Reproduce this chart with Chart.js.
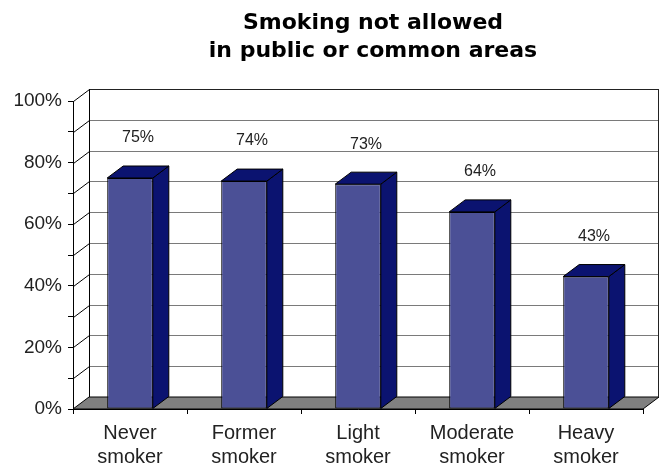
<!DOCTYPE html>
<html>
<head>
<meta charset="utf-8">
<script src="https://cdn.jsdelivr.net/npm/chart.js@4.4.1/dist/chart.umd.min.js"></script>
<style>
  html, body { margin: 0; padding: 0; background: #ffffff; }
  #wrap { width: 662px; height: 471px; }
</style>
</head>
<body>
<div id="wrap"><canvas id="c" width="662" height="471"></canvas></div>
<script>
const titleLines = ['Smoking not allowed', 'in public or common areas'];
const categories = [['Never', 'smoker'], ['Former', 'smoker'], ['Light', 'smoker'], ['Moderate', 'smoker'], ['Heavy', 'smoker']];
const values = [75, 74, 73, 64, 43];
const yMin = 0;
const yMax = 100;
const yStep = 10;        // tick marks every 10%
const yLabelEvery = 20;  // labels every 20%

const DX = 16, DY = -12;
const FRONT = '#4B5096';
const DARK = '#0B1370';

const threeD = {
  id: 'threeD',
  beforeDatasetsDraw(chart) {
    const { ctx, chartArea: a, scales: { y } } = chart;
    ctx.save();
    ctx.lineWidth = 1;
    // floor
    ctx.beginPath();
    ctx.moveTo(a.left, a.bottom);
    ctx.lineTo(a.right, a.bottom);
    ctx.lineTo(a.right + DX, a.bottom + DY);
    ctx.lineTo(a.left + DX, a.bottom + DY);
    ctx.closePath();
    ctx.fillStyle = '#808080';
    ctx.fill();
    ctx.strokeStyle = '#000';
    ctx.stroke();
    // back wall gridlines and left wall diagonals
    for (let v = yMin + yStep; v <= yMax; v += yStep) {
      const py = Math.round(y.getPixelForValue(v)) + 0.5;
      ctx.beginPath();
      ctx.moveTo(a.left + DX, py + DY);
      ctx.lineTo(a.right + DX, py + DY);
      ctx.strokeStyle = v === yMax ? '#222' : '#7a7a7a';
      ctx.stroke();
      ctx.beginPath();
      ctx.moveTo(a.left + 0.5, py);
      ctx.lineTo(a.left + DX + 0.5, py + DY);
      ctx.strokeStyle = '#000';
      ctx.stroke();
    }
    // back wall left edge
    ctx.beginPath();
    ctx.moveTo(a.left + DX + 0.5, a.top + DY);
    ctx.lineTo(a.left + DX + 0.5, a.bottom + DY);
    ctx.strokeStyle = '#000';
    ctx.stroke();
    // back wall right edge
    ctx.beginPath();
    ctx.moveTo(a.right + DX - 0.5, a.top + DY);
    ctx.lineTo(a.right + DX - 0.5, a.bottom + DY);
    ctx.strokeStyle = '#222';
    ctx.stroke();
    ctx.restore();
  },
  afterDatasetsDraw(chart) {
    const { ctx } = chart;
    const meta = chart.getDatasetMeta(0);
    ctx.save();
    ctx.lineWidth = 1;
    ctx.strokeStyle = '#000';
    ctx.lineJoin = 'miter';
    meta.data.forEach((el, i) => {
      const { x, y, base, width } = el.getProps(['x', 'y', 'base', 'width'], true);
      const l = x - width / 2, r = x + width / 2;
      // side face
      ctx.beginPath();
      ctx.moveTo(r, y);
      ctx.lineTo(r + DX, y + DY);
      ctx.lineTo(r + DX, base + DY);
      ctx.lineTo(r, base);
      ctx.closePath();
      ctx.fillStyle = DARK;
      ctx.fill();
      ctx.stroke();
      // top face
      ctx.beginPath();
      ctx.moveTo(l, y);
      ctx.lineTo(l + DX, y + DY);
      ctx.lineTo(r + DX, y + DY);
      ctx.lineTo(r, y);
      ctx.closePath();
      ctx.fillStyle = DARK;
      ctx.fill();
      ctx.stroke();
      // value label
      ctx.fillStyle = '#222';
      ctx.font = '16px "Liberation Sans", Arial, sans-serif';
      ctx.textAlign = 'center';
      ctx.textBaseline = 'middle';
      ctx.fillText(values[i] + '%', x + DX / 2, y - 40);
    });
    ctx.restore();
  },
  afterDraw(chart) {
    const { ctx } = chart;
    ctx.save();
    ctx.fillStyle = '#000';
    ctx.font = 'bold 22px "DejaVu Sans", sans-serif';
    ctx.textAlign = 'center';
    ctx.textBaseline = 'middle';
    ctx.fillText(titleLines[0], 373, 23);
    ctx.fillText(titleLines[1], 373, 51);
    ctx.restore();
  }
};

new Chart(document.getElementById('c'), {
  type: 'bar',
  data: {
    labels: categories,
    datasets: [{
      data: values,
      backgroundColor: FRONT,
      borderColor: '#000',
      borderWidth: 1,
      borderSkipped: false,
      categoryPercentage: 1.0,
      barPercentage: 0.4
    }]
  },
  options: {
    responsive: false,
    devicePixelRatio: 1,
    animation: false,
    layout: { padding: { top: 101, right: 19, left: 0, bottom: 0 } },
    plugins: {
      legend: { display: false },
      title: { display: false },
      tooltip: { enabled: false }
    },
    scales: {
      x: {
        afterFit(scale) { scale.height = 62; },
        grid: { offset: true, drawOnChartArea: false, drawTicks: true, tickLength: 5, color: '#000' },
        border: { display: true, color: '#000' },
        ticks: {
          color: '#222',
          padding: 7,
          maxRotation: 0,
          autoSkip: false,
          font: { family: '"Liberation Sans", Arial, sans-serif', size: 20, lineHeight: 1.2 }
        }
      },
      y: {
        min: yMin,
        max: yMax,
        afterFit(scale) { scale.width = 73; },
        grid: { drawOnChartArea: false, drawTicks: true, tickLength: 5, color: '#000' },
        border: { display: true, color: '#000' },
        ticks: {
          stepSize: yStep,
          color: '#222',
          padding: 6,
          font: { family: '"Liberation Sans", Arial, sans-serif', size: 19 },
          callback: (v) => (v % yLabelEvery === 0 ? v + '%' : '')
        }
      }
    }
  },
  plugins: [threeD]
});
</script>
</body>
</html>
